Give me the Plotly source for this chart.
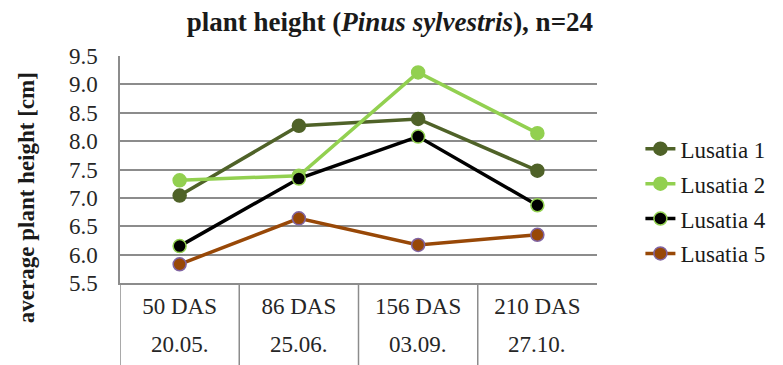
import plotly.graph_objects as go

# Sampling dates: days after sowing and calendar date
das_labels = ["50 DAS", "86 DAS", "156 DAS", "210 DAS"]
date_labels = ["20.05.", "25.06.", "03.09.", "27.10."]

# Average plant height [cm] per site
lusatia_1 = [7.04, 8.27, 8.39, 7.48]
lusatia_2 = [7.31, 7.39, 9.21, 8.14]
lusatia_4 = [6.15, 7.34, 8.08, 6.87]
lusatia_5 = [5.83, 6.64, 6.17, 6.35]

series_names = ["Lusatia 1", "Lusatia 2", "Lusatia 4", "Lusatia 5"]
series_values = [lusatia_1, lusatia_2, lusatia_4, lusatia_5]
line_colors = ["#4f6228", "#92d050", "#000000", "#984807"]
marker_edges = ["#4f6228", "#92d050", "#92d050", "#8064a2"]

y_ticks = [5.5, 6.0, 6.5, 7.0, 7.5, 8.0, 8.5, 9.0, 9.5]

SERIF = "Liberation Serif"
GRID = "#8c8c8c"
TXT = "#262626"

x_pos = list(range(len(das_labels)))

fig = go.Figure()
for i, (name, vals) in enumerate(zip(series_names, series_values)):
    fig.add_trace(go.Scatter(
        x=x_pos, y=vals, name=name, mode="lines+markers",
        line=dict(color=line_colors[i], width=3.5),
        marker=dict(size=13, color=line_colors[i],
                    line=dict(color=marker_edges[i], width=1.5)),
        legendgroup=name,
    ))

# Vertical separators of the category table below the plot
bottom = -0.4
for xv in [-0.5, 0.5, 1.5, 2.5]:
    fig.add_shape(type="line", xref="x", yref="paper", x0=xv, x1=xv,
                  y0=0, y1=bottom, line=dict(color=GRID, width=1.5))

# Second row of category labels (dates)
for xi, d in zip(x_pos, date_labels):
    fig.add_annotation(x=xi, y=-0.272, xref="x", yref="paper", text=d,
                       showarrow=False, yanchor="middle",
                       font=dict(family=SERIF, size=23, color=TXT))

# Y axis title
fig.add_annotation(x=-0.197, y=0.374, xref="paper", yref="paper",
                   text="<b>average plant height [cm]</b>", textangle=-90,
                   showarrow=False, xanchor="center", yanchor="middle",
                   font=dict(family=SERIF, size=23, color="#1a1a1a"))

fig.update_layout(
    width=783, height=365,
    margin=dict(l=120, r=168, t=56, b=82),
    paper_bgcolor="white", plot_bgcolor="white",
    font=dict(family=SERIF),
    title=dict(text="<b>plant height (<i>Pinus sylvestris</i>), n=24</b>",
               x=0.498, xref="container", xanchor="center",
               y=1 - 22 / 365, yref="container", yanchor="middle",
               font=dict(family=SERIF, size=27, color="#1a1a1a")),
    showlegend=True,
    legend=dict(x=1.091, y=0.360, xref="paper", yref="paper",
                xanchor="left", yanchor="middle",
                traceorder="grouped", tracegroupgap=2,
                font=dict(family=SERIF, size=23, color="#1a1a1a"),
                bgcolor="rgba(0,0,0,0)"),
    xaxis=dict(range=[-0.5, 3.5], tickmode="array", tickvals=x_pos,
               ticktext=das_labels, showgrid=False, zeroline=False,
               showline=True, linecolor=GRID, linewidth=1.5,
               ticks="", ticklabelstandoff=2,
               tickfont=dict(family=SERIF, size=23, color=TXT)),
    yaxis=dict(range=[5.5, 9.5], tickmode="array", tickvals=y_ticks,
               ticktext=[f"{v:.1f}" for v in y_ticks],
               showgrid=True, gridcolor=GRID, gridwidth=1.5,
               zeroline=False, showline=True, linecolor=GRID, linewidth=1.5,
               ticks="", ticklabelstandoff=16,
               tickfont=dict(family=SERIF, size=23, color=TXT)),
)

fig.write_html("out.html")
